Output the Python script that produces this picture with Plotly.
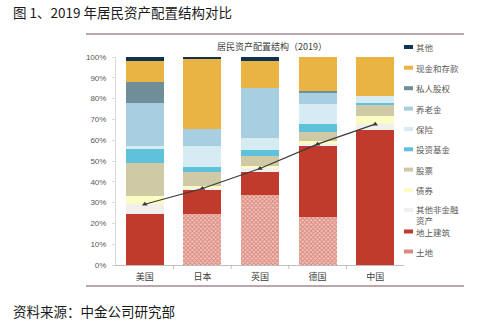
import plotly.graph_objects as go

countries = ["美国", "日本", "英国", "德国", "中国"]
# stacked shares (%) bottom -> top
land       = [0.0, 24.4, 33.7, 23.1, 0.0]
building   = [24.4, 12.1, 11.2, 34.2, 65.0]
other_nf   = [4.8, 0.3, 1.5, 0.8, 2.7]
bonds      = [4.2, 1.3, 1.0, 1.3, 4.0]
stocks     = [15.6, 6.7, 5.1, 4.5, 5.3]
funds      = [6.8, 2.2, 2.6, 4.0, 0.7]
insurance  = [1.6, 10.2, 5.8, 9.5, 3.7]
pension    = [20.6, 8.0, 24.1, 5.6, 0.0]
private_eq = [10.0, 0.0, 0.0, 0.5, 0.0]
cash       = [10.2, 33.7, 13.1, 16.5, 18.6]
others     = [1.8, 1.8, 1.8, 0.0, 0.0]

yticks = [0, 10, 20, 30, 40, 50, 60, 70, 80, 90, 100]
ytick_text = [f"{v}%" for v in yticks]

series = [
    ("土地", land, "#c0392b"),
    ("地上建筑", building, "#c03b2b"),
    ("其他非金融资产", other_nf, "#f1f0ee"),
    ("债券", bonds, "#fdfbc4"),
    ("股票", stocks, "#cfc9a5"),
    ("投资基金", funds, "#5ec2db"),
    ("保险", insurance, "#d7ebf2"),
    ("养老金", pension, "#a7cfe1"),
    ("私人股权", private_eq, "#6f8e98"),
    ("现金和存款", cash, "#e9b443"),
    ("其他", others, "#0f3352"),
]

# non-financial assets total (line)
nonfin_total = [a + b + c for a, b, c in zip(land, building, other_nf)]

W, H = 484, 325
L, R, T, B = 116, 404, 57, 265

def px(x):
    return (x - L) / (R - L)

def py(y):
    return (B - y) / (B - T)

fig = go.Figure()
for name, vals, col in series:
    marker = dict(color=col, line=dict(width=0))
    if name == "土地":
        marker = dict(color="#f2c9c2",
                      pattern=dict(shape="x", fgcolor="#c8453a", bgcolor="#efc4bc",
                                   size=3, solidity=0.5),
                      line=dict(width=0))
    fig.add_trace(go.Bar(x=countries, y=vals, name=name, marker=marker,
                         showlegend=False))

fig.add_trace(go.Scatter(x=countries, y=nonfin_total, mode="lines+markers",
                         line=dict(color="#3a3a3a", width=1.2),
                         marker=dict(symbol="triangle-up", size=5, color="#3a3a3a"),
                         showlegend=False))

fig.update_layout(
    width=W, height=H,
    margin=dict(l=L, r=W - R, t=T, b=H - B, pad=0),
    barmode="stack", bargap=0.34,
    plot_bgcolor="white", paper_bgcolor="white",
    font=dict(family="Noto Sans CJK SC", color="#595959"),
    xaxis=dict(showline=True, linecolor="#bfbfbf", linewidth=1,
               ticks="", tickfont=dict(size=9, color="#404040"),
               ticklabelstandoff=3,
               showgrid=False, fixedrange=True),
    yaxis=dict(range=[0, 100], tickvals=yticks, ticktext=ytick_text,
               showline=True, linecolor="#d9d9d9", linewidth=1,
               ticks="outside", ticklen=3, tickcolor="#d9d9d9",
               showgrid=False, zeroline=False,
               tickfont=dict(family="Arial", size=8, color="#595959"),
               ticklabelstandoff=4),
)

# category separator ticks on x axis
for i in range(1, 5):
    xp = i / 5
    fig.add_shape(type="line", xref="paper", yref="paper",
                  x0=xp, x1=xp, y0=0, y1=py(B + 4), line=dict(color="#bfbfbf", width=1))

# frame lines
for yy in (34, 286):
    fig.add_shape(type="line", xref="paper", yref="paper",
                  x0=px(86), x1=px(464), y0=py(yy), y1=py(yy),
                  line=dict(color="#b9a7ab", width=2))

# titles
fig.add_annotation(text="图 1、2019 年居民资产配置结构对比", xref="paper", yref="paper",
                   x=px(11), y=py(12), xanchor="left", yanchor="middle", showarrow=False,
                   font=dict(size=13.5, color="#1a1a1a", family="Noto Sans CJK SC"))
fig.add_annotation(text="居民资产配置结构（2019）", xref="paper", yref="paper",
                   x=px(272), y=py(47), xanchor="center", yanchor="middle", showarrow=False,
                   font=dict(size=9, color="#404040"))
fig.add_annotation(text="资料来源：中金公司研究部", xref="paper", yref="paper",
                   x=px(11), y=py(311), xanchor="left", yanchor="middle", showarrow=False,
                   font=dict(size=13.5, color="#1a1a1a"))

# manual legend: (label, swatch colour, swatch y, text centre y)
legend_items = [
    ("其他", "#0f3352", 47, 47),
    ("现金和存款", "#e9b443", 67.7, 67.7),
    ("私人股权", "#6f8e98", 88.2, 88.2),
    ("养老金", "#a7cfe1", 108.6, 108.6),
    ("保险", "#d7ebf2", 129, 129),
    ("投资基金", "#5ec2db", 149.3, 149.3),
    ("股票", "#cfc9a5", 169.6, 169.6),
    ("债券", "#fdfbc4", 190, 190),
    ("其他非金融<br>资产", "#f1f0ee", 210, 214.5),
    ("地上建筑", "#c03b2b", 231.5, 231.5),
    ("土地", "#dc8b80", 251.5, 251.5),
]
for label, col, sy, yc in legend_items:
    fig.add_shape(type="rect", xref="paper", yref="paper",
                  x0=px(404), x1=px(413), y0=py(sy - 2), y1=py(sy + 2),
                  fillcolor=col, line=dict(width=0))
    fig.add_annotation(text=label, xref="paper", yref="paper",
                       x=px(415), y=py(yc), xanchor="left", yanchor="middle",
                       showarrow=False, align="left", borderpad=0,
                       font=dict(size=8.5, color="#595959"))

fig.write_html("out.html")
